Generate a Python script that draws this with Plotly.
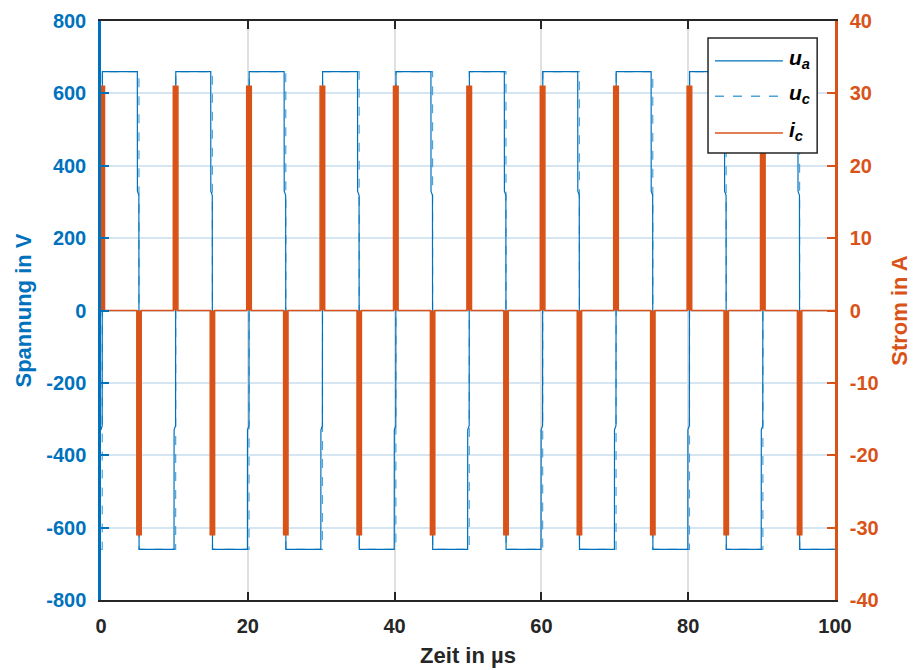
import plotly.graph_objects as go

# Switching instants of phase a in µs
rise_times = [0.0, 10.0, 20.0, 30.0, 40.0, 50.0, 60.0, 70.0, 80.0, 90.0]
fall_times = [5.0, 15.0, 25.0, 35.0, 45.0, 55.0, 65.0, 75.0, 85.0, 95.0]
t_end = 100.0

# Voltage levels in V
u_high = 660.0
u_mid = 330.0       # intermediate level during commutation
u_mid_end = 318.0   # level at the end of the intermediate step

# Capacitor current peaks in A
i_peak_pos = 31.0
i_peak_neg = -31.0

# Axis ticks and labels
x_ticks = [0, 20, 40, 60, 80, 100]
u_ticks = [-800, -600, -400, -200, 0, 200, 400, 600, 800]
u_labels = ["-800", "-600", "-400", "-200", "0", "200", "400", "600", "800"]
i_ticks = [-40, -30, -20, -10, 0, 10, 20, 30, 40]
i_labels = ["-40", "-30", "-20", "-10", "0", "10", "20", "30", "40"]

# Time offsets of the commutation edges in µs
edge_start, edge_step, edge_end = -0.05, 0.16, 0.19
pulse_pos = (-0.15, 0.48)
pulse_neg = (-0.12, 0.48)

BLUE = "#0072BD"
LIGHT_BLUE = "#4FA3DA"
ORANGE = "#D95319"
DARK = "#262626"
FONT = "Liberation Sans, Arial, sans-serif"

events = sorted([(r, +1) for r in rise_times] + [(f, -1) for f in fall_times])

# --- phase voltage u_a ------------------------------------------------------
t_a, v_a = [0.0], [-u_mid]
for t0, s in events:
    if t0 > 0:
        t_a += [t0 + edge_start, t0 + edge_start + 0.01]
        v_a += [-s * u_high, -s * u_mid]
    t_a += [t0 + edge_step, t0 + edge_end]
    v_a += [-s * u_mid_end, s * u_high]
t_a.append(t_end)
v_a.append(v_a[-1])

# --- capacitor voltage u_c --------------------------------------------------
t_c, v_c = [0.0], [-u_high]
for t0, s in events:
    t_c += [t0 + 0.17, t0 + 0.19]
    v_c += [-s * u_high, s * u_high]
t_c.append(t_end)
v_c.append(v_c[-1])

# --- capacitor current i_c --------------------------------------------------
t_i, v_i = [0.0], [0.0]
for t0, s in events:
    a, b = pulse_pos if s > 0 else pulse_neg
    peak = i_peak_pos if s > 0 else i_peak_neg
    lo = max(t0 + a, 0.0)
    t_i += [lo, lo, t0 + b, t0 + b]
    v_i += [0.0, peak, peak, 0.0]
t_i.append(t_end)
v_i.append(0.0)

fig = go.Figure()
fig.add_trace(go.Scatter(x=t_c, y=v_c, mode="lines", name="u_c",
                         line=dict(color=LIGHT_BLUE, width=1.2, dash="dash"),
                         showlegend=False, yaxis="y"))
fig.add_trace(go.Scatter(x=t_a, y=v_a, mode="lines", name="u_a",
                         line=dict(color=BLUE, width=1.2),
                         showlegend=False, yaxis="y"))
fig.add_trace(go.Scatter(x=t_i, y=v_i, mode="lines", name="i_c",
                         line=dict(color=ORANGE, width=1.5),
                         fill="tozeroy", fillcolor=ORANGE,
                         showlegend=False, yaxis="y2"))

# --- legend box ---------------------------------------------------------------
x0, x1 = 0.827, 0.9757
y0, y1 = 0.772, 0.9706
shapes = [dict(type="rect", xref="paper", yref="paper", x0=x0, x1=x1, y0=y0, y1=y1,
               line=dict(color=DARK, width=1.5), fillcolor="white", layer="above")]
entries = [("u", "a", BLUE, "solid", 0.931),
           ("u", "c", LIGHT_BLUE, "dash", 0.870),
           ("i", "c", ORANGE, "solid", 0.8066)]
annotations = []
for sym, sub, col, dash, yy in entries:
    shapes.append(dict(type="line", xref="paper", yref="paper", x0=0.8365, x1=0.929,
                       y0=yy, y1=yy, line=dict(color=col, width=1.3, dash=dash),
                       layer="above"))
    annotations.append(dict(xref="paper", yref="paper", x=0.934, y=yy + 0.004,
                            xanchor="left", yanchor="middle", showarrow=False,
                            text=f"<b><i>{sym}</i></b><sub><b><i>{sub}</i></b></sub>",
                            font=dict(family=FONT, size=21, color="black")))

fig.update_layout(
    width=918, height=670,
    margin=dict(l=101, r=83, t=21, b=70),
    paper_bgcolor="white", plot_bgcolor="white",
    font=dict(family=FONT),
    shapes=shapes, annotations=annotations,
    xaxis=dict(
        range=[0, 100], tickvals=x_ticks, automargin=False,
        showline=True, linecolor=DARK, linewidth=2, mirror="ticks",
        ticks="inside", ticklen=8, tickwidth=1.5, tickcolor=DARK,
        showgrid=True, gridcolor="#e0e0e0", gridwidth=1.5, zeroline=False,
        tickfont=dict(family=FONT, size=20, color=DARK, weight="bold"),
        ticklabelstandoff=7,
        title=dict(text="Zeit in µs", standoff=12,
                   font=dict(family=FONT, size=22, color=DARK, weight="bold")),
    ),
    yaxis=dict(
        range=[-800, 800], tickvals=u_ticks, ticktext=u_labels, automargin=False,
        showline=True, linecolor=BLUE, linewidth=2.5,
        ticks="inside", ticklen=8, tickwidth=1.5, tickcolor=BLUE,
        showgrid=True, gridcolor="#d6e5f2", gridwidth=1.5, zeroline=False,
        tickfont=dict(family=FONT, size=20, color=BLUE, weight="bold"),
        ticklabelstandoff=8,
        title=dict(text="Spannung in V", standoff=9,
                   font=dict(family=FONT, size=22, color=BLUE, weight="bold")),
    ),
    yaxis2=dict(
        range=[-40, 40], tickvals=i_ticks, ticktext=i_labels, automargin=False,
        overlaying="y", side="right",
        showline=True, linecolor=ORANGE, linewidth=2.5,
        ticks="inside", ticklen=8, tickwidth=1.5, tickcolor=ORANGE,
        showgrid=False, zeroline=False,
        tickfont=dict(family=FONT, size=20, color=ORANGE, weight="bold"),
        ticklabelstandoff=8,
        title=dict(text="Strom in A", standoff=14,
                   font=dict(family=FONT, size=22, color=ORANGE, weight="bold")),
    ),
)

fig.write_html("out.html")
